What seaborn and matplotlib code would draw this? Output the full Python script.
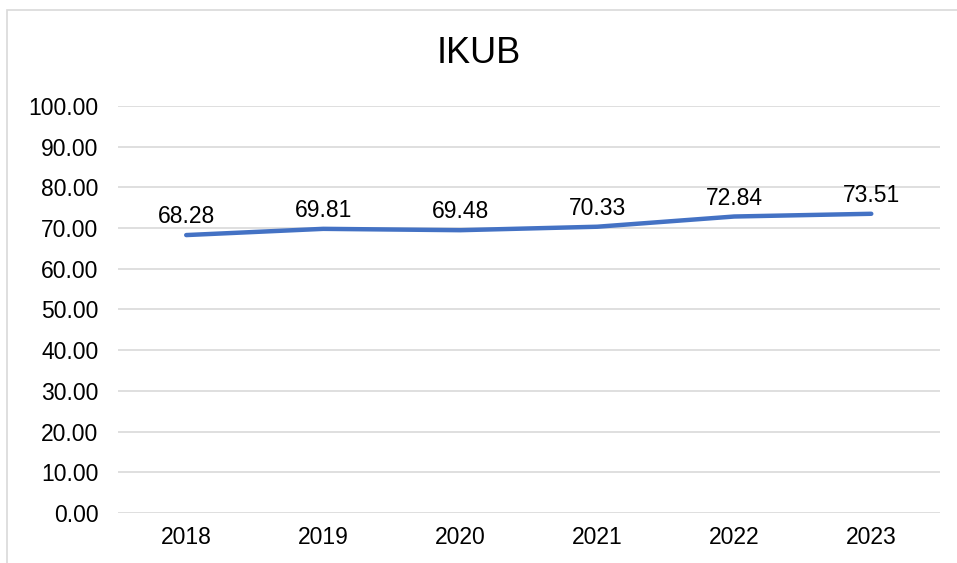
import matplotlib
matplotlib.use('Agg')
import matplotlib.pyplot as plt
import seaborn as sns
import pandas as pd
from matplotlib.patches import Rectangle

years = ['2018', '2019', '2020', '2021', '2022', '2023']
ikub = [68.28, 69.81, 69.48, 70.33, 72.84, 73.51]
y_ticks = [0, 10, 20, 30, 40, 50, 60, 70, 80, 90, 100]

df = pd.DataFrame({'year': years, 'ikub': ikub})

sns.set_style('white')
plt.rcParams['font.family'] = ['Liberation Sans', 'DejaVu Sans']
plt.rcParams['text.color'] = '#000000'

fig = plt.figure(figsize=(9.57, 5.63), dpi=100)
ax = fig.add_axes([0.123, 0.0888, 0.859, 0.723])

sns.lineplot(data=df, x='year', y='ikub', ax=ax, color='#4472C4',
             linewidth=3.2, solid_capstyle='round', sort=False)

for i, v in enumerate(ikub):
    ax.annotate(f'{v:.2f}', (i, v), xytext=(0, 5), textcoords='offset points',
                ha='center', va='bottom', fontsize=16.5, color='#000000')

ax.set_xlim(-0.5, len(years) - 0.5)
ax.set_ylim(0, 100)
ax.set_yticks(y_ticks)
ax.set_yticklabels([f'{t:.2f}' for t in y_ticks])
ax.yaxis.grid(True, color='#d9d9d9', linewidth=1.2)
ax.set_axisbelow(True)
for s in ax.spines.values():
    s.set_visible(False)
ax.tick_params(axis='both', length=0, labelsize=16.5, colors='#000000')
ax.tick_params(axis='y', pad=14)
ax.tick_params(axis='x', pad=9)
ax.set_xlabel('')
ax.set_ylabel('')

fig.text(0.5, 0.905, 'IKUB', ha='center', va='center', fontsize=26,
         color='#000000')

fig.patches.append(Rectangle((7 / 957, -0.01), 1.2, 1 - 10 / 563 + 0.01,
                             transform=fig.transFigure, fill=False,
                             edgecolor='#d9d9d9', linewidth=1.2))

fig.savefig('out.png', dpi=100)
